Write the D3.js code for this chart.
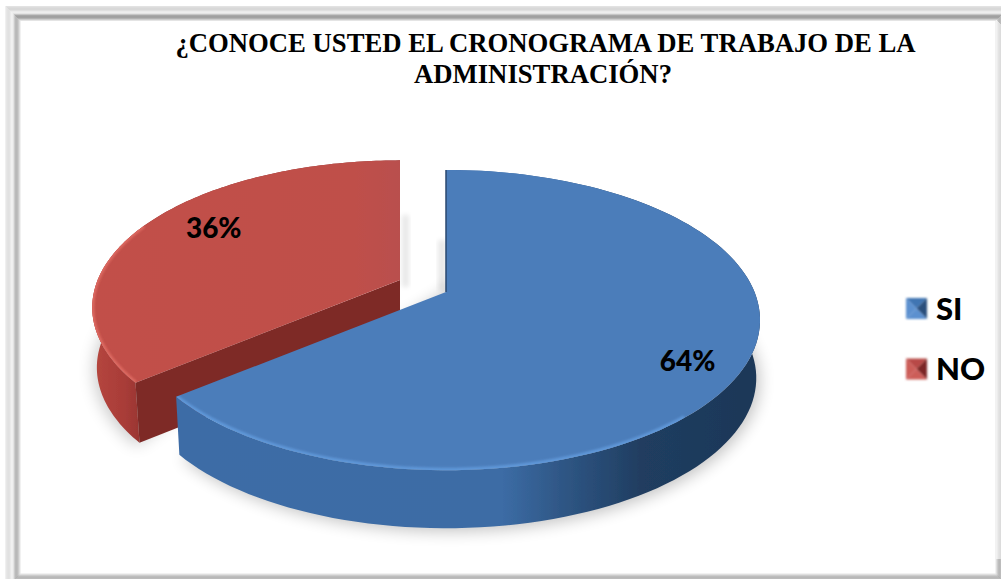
<!DOCTYPE html>
<html><head><meta charset="utf-8">
<script src="https://cdnjs.cloudflare.com/ajax/libs/d3/7.8.5/d3.min.js"></script>
<style>html,body{margin:0;padding:0;background:#fff;overflow:hidden}svg{display:block}</style>
</head><body><svg id="c" width="1001" height="579"></svg>
<script>
const categories = ["SI","NO"];
const seriesValues = [64,36];
const labels = ["64%","36%"];
const titleLines = ["¿CONOCE USTED EL CRONOGRAMA DE TRABAJO DE LA","ADMINISTRACIÓN?"];

const svg = d3.select("#c");
const defs = svg.append("defs");
const blur = (id,s)=>defs.append("filter").attr("id",id).attr("x","-20%").attr("y","-20%").attr("width","140%").attr("height","140%")
  .append("feGaussianBlur").attr("stdDeviation",s);
blur("b8",8); blur("b3",2.5); blur("b1",1); blur("b06",0.6); blur("b08",0.9);

// picture frame: nested bands around the white plot area
svg.append("rect").attr("width",1001).attr("height",579).attr("fill","#fff");
const frameBands=["#e4e4e4","#cccccc","#b2b2b2","#a2a2a2","#a0a0a0","#a8a8a8","#c6c6c6","#e4e4e4","#eeeeee","#ebebeb","#e0e0e0","#d8d8d8","#d8d8d8","#dcdcdc","#e2e2e2"];
frameBands.forEach((c,d)=>svg.append("rect")
  .attr("x",20-d).attr("y",20.5-d).attr("width",976+2*d).attr("height",553.5+2*d)
  .attr("fill","none").attr("stroke",c).attr("stroke-width",1));
const rightBands=["#f2f2f2","#ececec","#e4e4e4","#e0e0e0","#dcdcdc"];
rightBands.forEach((c,i)=>svg.append("rect").attr("x",996+i).attr("y",20+i).attr("width",1).attr("height",559-20-i).attr("fill",c));

// perspective projection of the unit pie disc
const K=0.187, A=308.5, B=90.3, CX=446, CY=292;
function project(angle,r=1){
  const u=r*Math.sin(angle), v=-r*Math.cos(angle), w=1-K*v;
  return [CX+A*u/w,(B*v+CY)/w];
}
const line=d3.line();
const sweep=(a0,a1,f)=>d3.range(0,121).map(i=>f(project(a0+(a1-a0)*i/120)));
const arcs=d3.pie().sort(null).startAngle(0).endAngle(2*Math.PI)(seriesValues);
const si=arcs[0], no=arcs[1];

// placement of the exploded slice and of the lower rims
const redApexPos=[400,280], redScale=.98;
const redT=p=>[redApexPos[0]+(p[0]-CX)*redScale, redApexPos[1]+(p[1]-CY)*redScale];
const depthB=58, depthR=60;
const downB=p=>[CX+(p[0]-CX)*.988,p[1]+depthB];
const downR=p=>[redApexPos[0]+(p[0]-redApexPos[0])*.985,p[1]+depthR];

const grad=(id,stops,x1,x2)=>{const g=defs.append("linearGradient").attr("id",id).attr("gradientUnits","userSpaceOnUse")
  .attr("x1",x1).attr("x2",x2).attr("y1",0).attr("y2",0);
  stops.forEach(([o,c])=>g.append("stop").attr("offset",o).attr("stop-color",c));};
grad("bside",[[0,"#3d6ca6"],[0.55,"#3c6ca5"],[0.65,"#2f5786"],[0.79,"#203d60"],[1,"#1c3757"]],180,765);
grad("rside",[[0,"#b8483f"],[0.6,"#a83c38"],[1,"#8f302d"]],88,150);
grad("rtop",[[0,"#c24f49"],[0.85,"#bf4f4a"],[1,"#b9504e"]],90,402);

const blueArc=sweep(si.startAngle,si.endAngle,p=>p);
const redOuter=sweep(no.startAngle,no.endAngle,redT);
const blueSide=[...blueArc,...blueArc.map(downB).reverse()];
const redSide=[...redOuter,...redOuter.map(downR).reverse()];
const blueApex=project(0,0);
const redApex=redT(blueApex);
const redCorner=redOuter[0];

// soft shadows
svg.append("path").attr("d",line([[blueApex[0],blueApex[1]],...blueArc.slice(6).map(p=>{const q=downB(p);return [q[0]+3,q[1]+3];})])+"Z")
  .attr("fill","#000").attr("opacity",.24).attr("filter","url(#b8)");
svg.append("path").attr("d",line([[redApex[0]-40,redApex[1]],...redOuter.slice(0,80).map(p=>{const q=downR(p);return [q[0]-3,q[1]+3];})])+"Z")
  .attr("fill","#000").attr("opacity",.2).attr("filter","url(#b8)");
svg.append("rect").attr("x",402).attr("y",215).attr("width",7).attr("height",72).attr("fill","#000").attr("opacity",.09).attr("filter","url(#b3)");
svg.append("rect").attr("x",438).attr("y",240).attr("width",8).attr("height",50).attr("fill","#000").attr("opacity",.09).attr("filter","url(#b3)");

const pie=svg.append("g").attr("filter","url(#b06)");

// NO slice
pie.append("path").attr("d",line(redSide)+"Z").attr("fill","url(#rside)");
pie.append("path").attr("d",line([redApex,redCorner,downR(redCorner),downR(redApex)])+"Z").attr("fill","#7e2a27");
const redTop=[redApex,...redOuter];
pie.append("path").attr("d",line(redTop)+"Z").attr("fill","url(#rtop)");
defs.append("clipPath").attr("id","clipR").append("path").attr("d",line(redTop)+"Z");
pie.append("g").attr("clip-path","url(#clipR)").append("path")
  .attr("d",line(redOuter.slice(0,60))).attr("fill","none").attr("stroke","#de6a62").attr("stroke-width",4).attr("filter","url(#b1)");

// SI slice
pie.append("path").attr("d",line(blueSide)+"Z").attr("fill","url(#bside)");
const blueTop=[blueApex,...blueArc];
pie.append("path").attr("d",line(blueTop)+"Z").attr("fill","#4c7dba");
defs.append("clipPath").attr("id","clipB").append("path").attr("d",line(blueTop)+"Z");
pie.append("g").attr("clip-path","url(#clipB)").append("path")
  .attr("d",line(blueArc.slice(72))).attr("fill","none").attr("stroke","#5f97d8").attr("stroke-width",5).attr("filter","url(#b1)");
pie.append("path").attr("d",line([project(0,1),blueApex])).attr("stroke","#27486f").attr("stroke-width",1.5).attr("fill","none");

// data labels
const labelFont="Lato, 'Open Sans', sans-serif";
const mid=d=>(d.startAngle+d.endAngle)/2;
const lab=(p,i)=>svg.append("text").attr("x",p[0]).attr("y",p[1]).attr("text-anchor","middle").attr("dominant-baseline","central")
   .attr("font-family",labelFont).attr("font-weight",900).attr("font-size",28).attr("fill","#000").text(labels[i]);
const pSi=project(mid(si),.81); lab([pSi[0],pSi[1]+15],0);
const pNo=redT(project(mid(no),.72)); lab([pNo[0],pNo[1]-12],1);

// legend
const legColors=[["#4f81bd","#5c90cf","#2b4f7c","#3f74b2"],["#c0504d","#cc5d59","#7c2826","#b84a47"]];
const legY=d3.scalePoint().domain(categories).range([308.5,369]);
categories.forEach((c,i)=>{
  const y=legY(c), x=906, s=21, h=s/2, col=legColors[i], g=svg.append("g").attr("filter","url(#b08)");
  const cx=x+h, cy=y;
  const tri=[[[x,y-h],[x+s,y-h]],[[x,y-h],[x,y+h]],[[x+s,y-h],[x+s,y+h]],[[x,y+h],[x+s,y+h]]];
  const fills=[col[3],col[1],col[2],col[1]];
  tri.forEach((t,j)=>g.append("path").attr("d",line([t[0],t[1],[cx,cy]])+"Z").attr("fill",fills[j]));
  svg.append("text").attr("x",936).attr("y",y+11).attr("font-family",labelFont).attr("font-weight",900).attr("font-size",31).attr("fill","#000").text(c);
});

// title
titleLines.forEach((t,i)=>svg.append("text").attr("x",[545.5,543][i]).attr("y",[52,83][i]).attr("text-anchor","middle")
  .attr("font-family","'Liberation Serif',serif").attr("font-weight",700).attr("font-size",26.7).attr("fill","#000").text(t));
</script></body></html>
